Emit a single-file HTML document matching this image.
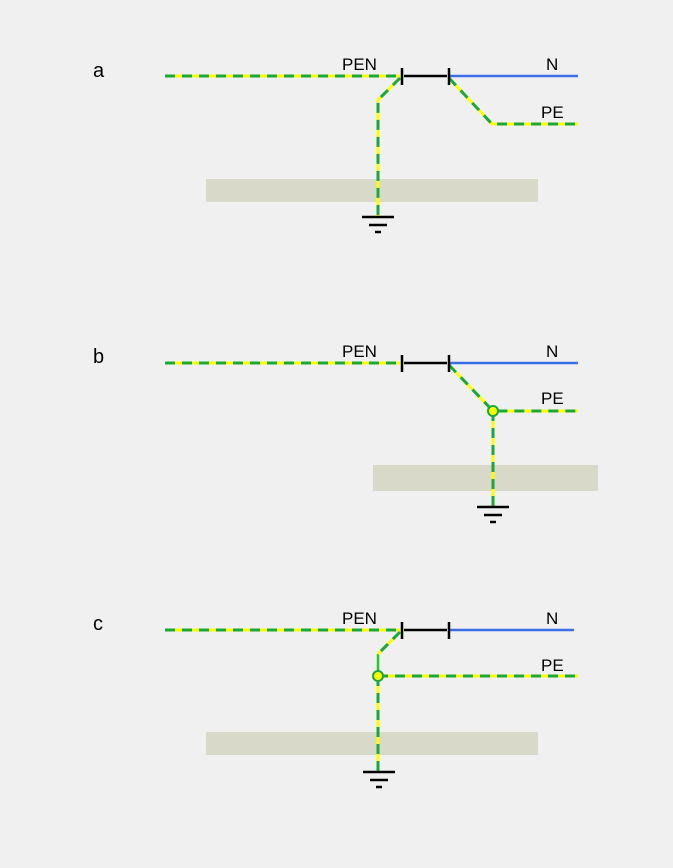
<!DOCTYPE html>
<html><head><style>body{margin:0;background:#f0f0f0}svg{display:block}text{font-family:"Liberation Sans",sans-serif;fill:#000}</style></head><body>
<svg width="673" height="868" viewBox="0 0 673 868">
<defs>
<g id="gnd"><line x1="-16" y1="0" x2="16" y2="0" stroke="#000" stroke-width="2.5"/><line x1="-9" y1="8" x2="9" y2="8" stroke="#000" stroke-width="2.5"/><line x1="-3" y1="15" x2="3" y2="15" stroke="#000" stroke-width="2.5"/></g>
</defs>
<rect width="673" height="868" fill="#f0f0f0"/>
<g fill="#d9d9c9"><rect x="206" y="179" width="332" height="23"/><rect x="373" y="465" width="225" height="26"/><rect x="206" y="732" width="332" height="23"/></g>
<g font-size="17"><text x="93" y="77" font-size="20">a</text><text x="93" y="363" font-size="20">b</text><text x="93" y="630" font-size="20">c</text>
<text x="342" y="70">PEN</text><text x="546" y="70">N</text><text x="541" y="118">PE</text>
<text x="342" y="357">PEN</text><text x="546" y="357">N</text><text x="541" y="404">PE</text>
<text x="342" y="624">PEN</text><text x="546" y="624">N</text><text x="541" y="671">PE</text></g>
<g stroke-width="2.5" fill="none">
<line x1="404" y1="76" x2="447" y2="76" stroke="#000"/><line x1="449" y1="76" x2="578" y2="76" stroke="#3a6ee8"/>
<line x1="404" y1="363" x2="447" y2="363" stroke="#000"/><line x1="449" y1="363" x2="578" y2="363" stroke="#3a6ee8"/>
<line x1="404" y1="630" x2="447" y2="630" stroke="#000"/><line x1="449" y1="630" x2="574" y2="630" stroke="#3a6ee8"/>
<line x1="378" y1="654" x2="378" y2="676" stroke="#22cc22"/>
</g>
<g fill="none" stroke-width="3">
<g stroke="#ffff00">
<path d="M165 76H400M400 78L378 100V217M449 78L492 124H578"/>
<path d="M165 363H400M449 365L493 411H578M493 411V507"/>
<path d="M165 630H400M400 632L378 654M378 676H578M378 676V771"/>
</g>
<g stroke="#1aa83a" stroke-dasharray="10 7">
<path d="M165 76H400M400 78L378 100V217M449 78L492 124H578"/>
<path d="M165 363H400M449 365L493 411H578M493 411V507"/>
<path d="M165 630H400M400 632L378 654M378 676H578M378 676V771"/>
</g>
</g>
<g stroke="#000" stroke-width="2.5">
<line x1="402" y1="68" x2="402" y2="85"/><line x1="449" y1="68" x2="449" y2="85"/>
<line x1="402" y1="355" x2="402" y2="372"/><line x1="449" y1="355" x2="449" y2="372"/>
<line x1="402" y1="622" x2="402" y2="639"/><line x1="449" y1="622" x2="449" y2="639"/>
</g>
<circle cx="493" cy="411" r="5" fill="#ffff00" stroke="#1aa83a" stroke-width="2"/>
<circle cx="378" cy="676" r="5" fill="#ffff00" stroke="#1aa83a" stroke-width="2"/>
<use href="#gnd" x="378" y="217"/><use href="#gnd" x="493" y="507"/><use href="#gnd" x="379" y="772"/>
</svg>
</body></html>
